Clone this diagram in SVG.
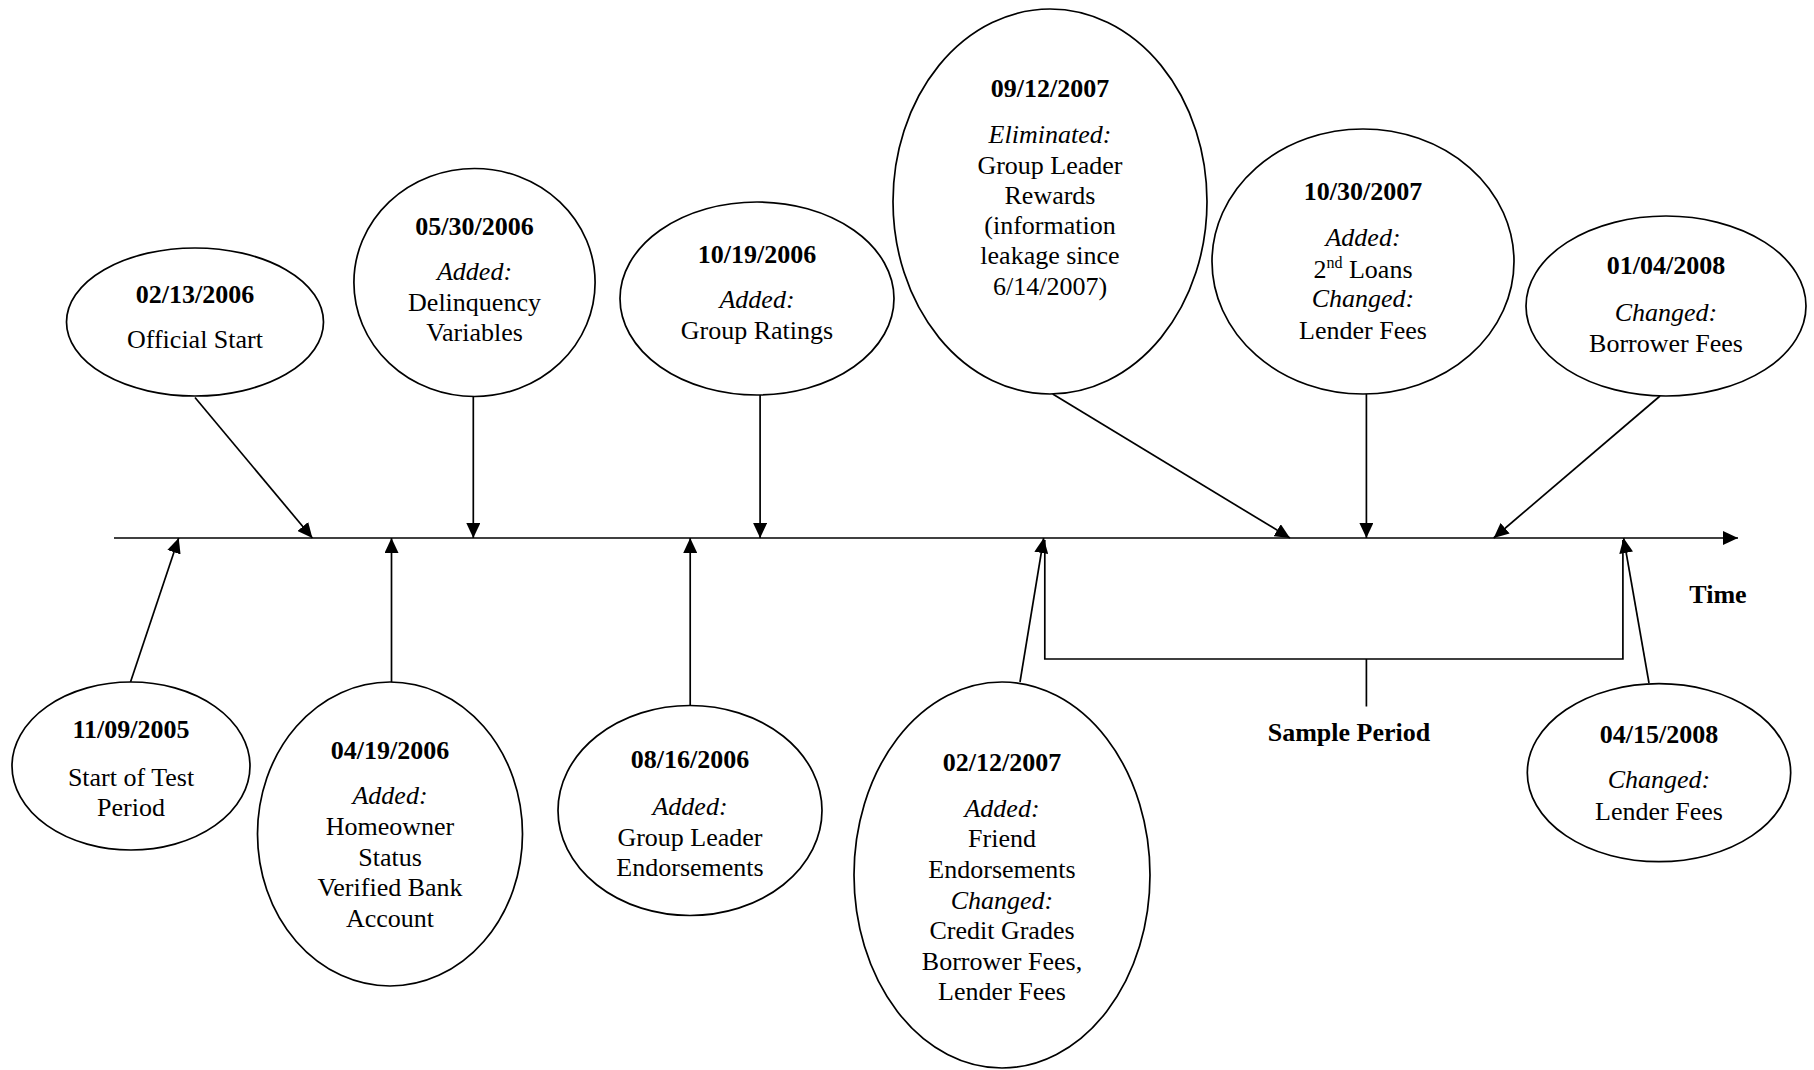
<svg xmlns="http://www.w3.org/2000/svg" width="1814" height="1070" viewBox="0 0 1814 1070">
<defs>
<marker id="ah" markerUnits="userSpaceOnUse" markerWidth="15" markerHeight="14" refX="15" refY="7" orient="auto">
<path d="M0,0 L15,7 L0,14 z" fill="#000"/>
</marker>
</defs>
<style>
.e{fill:#fff;stroke:#000;stroke-width:1.7}
.c{fill:none;stroke:#000;stroke-width:1.7}
text{font-family:"Liberation Serif","Times New Roman",serif;font-size:26px;fill:#000;text-anchor:middle}
.d{font-weight:bold}
.i{font-style:italic}
</style>
<rect width="1814" height="1070" fill="#fff"/>
<g id="connectors">
<path class="c" d="M114,538 H1738" marker-end="url(#ah)"/>
<path class="c" d="M130.5,682 L178.7,538" marker-end="url(#ah)"/>
<path class="c" d="M195,397.5 L312.4,538" marker-end="url(#ah)"/>
<path class="c" d="M391.5,682 L391.5,538" marker-end="url(#ah)"/>
<path class="c" d="M473.3,396.5 L473.3,538" marker-end="url(#ah)"/>
<path class="c" d="M690.2,705.5 L690.2,538" marker-end="url(#ah)"/>
<path class="c" d="M760.1,395 L760.1,538" marker-end="url(#ah)"/>
<path class="c" d="M1020,682 L1043.7,538" marker-end="url(#ah)"/>
<path class="c" d="M1052.7,394 L1290,538" marker-end="url(#ah)"/>
<path class="c" d="M1366.4,394 L1366.4,538" marker-end="url(#ah)"/>
<path class="c" d="M1660,396 L1493.7,538" marker-end="url(#ah)"/>
<path class="c" d="M1649,683 L1623.6,538" marker-end="url(#ah)"/>
<path class="c" d="M1044.8,540 V659 H1622.9 V540"/>
<path class="c" d="M1366.4,659 V706.5"/>
</g>
<g id="n1">
<ellipse class="e" cx="131" cy="766" rx="119" ry="84"/>
<text x="131" y="738" class="d">11/09/2005</text>
<text x="131" y="785.5">Start of Test</text>
<text x="131" y="815.6">Period</text>
</g>
<g id="n2">
<ellipse class="e" cx="195" cy="322" rx="128.5" ry="74"/>
<text x="195" y="303" class="d">02/13/2006</text>
<text x="195" y="348">Official Start</text>
</g>
<g id="n3">
<ellipse class="e" cx="390" cy="834" rx="132.5" ry="152"/>
<text x="390" y="759" class="d">04/19/2006</text>
<text x="390" y="804" class="i">Added:</text>
<text x="390" y="835">Homeowner</text>
<text x="390" y="865.5">Status</text>
<text x="390" y="896">Verified Bank</text>
<text x="390" y="927">Account</text>
</g>
<g id="n4">
<ellipse class="e" cx="474.5" cy="282.5" rx="120.6" ry="114"/>
<text x="474.5" y="234.6" class="d">05/30/2006</text>
<text x="474.5" y="280" class="i">Added:</text>
<text x="474.5" y="311">Delinquency</text>
<text x="474.5" y="341">Variables</text>
</g>
<g id="n5">
<ellipse class="e" cx="690" cy="810.5" rx="132" ry="105"/>
<text x="690" y="768.4" class="d">08/16/2006</text>
<text x="690" y="814.5" class="i">Added:</text>
<text x="690" y="845.5">Group Leader</text>
<text x="690" y="876.4">Endorsements</text>
</g>
<g id="n6">
<ellipse class="e" cx="757" cy="298.5" rx="137" ry="96.5"/>
<text x="757" y="262.5" class="d">10/19/2006</text>
<text x="757" y="308" class="i">Added:</text>
<text x="757" y="338.6">Group Ratings</text>
</g>
<g id="n7">
<ellipse class="e" cx="1002" cy="875" rx="148" ry="193"/>
<text x="1002" y="771" class="d">02/12/2007</text>
<text x="1002" y="817" class="i">Added:</text>
<text x="1002" y="847">Friend</text>
<text x="1002" y="878">Endorsements</text>
<text x="1002" y="909" class="i">Changed:</text>
<text x="1002" y="939">Credit Grades</text>
<text x="1002" y="970">Borrower Fees,</text>
<text x="1002" y="1000">Lender Fees</text>
</g>
<g id="n8">
<ellipse class="e" cx="1050" cy="201.5" rx="157" ry="192.5"/>
<text x="1050" y="97" class="d">09/12/2007</text>
<text x="1050" y="143" class="i">Eliminated:</text>
<text x="1050" y="174">Group Leader</text>
<text x="1050" y="204">Rewards</text>
<text x="1050" y="234">(information</text>
<text x="1050" y="264">leakage since</text>
<text x="1050" y="294.6">6/14/2007)</text>
</g>
<g id="n9">
<ellipse class="e" cx="1363" cy="261.5" rx="151" ry="132.5"/>
<text x="1363" y="200" class="d">10/30/2007</text>
<text x="1363" y="246.4" class="i">Added:</text>
<text x="1363" y="278">2<tspan dy="-10" font-size="16">nd</tspan><tspan dy="10"> Loans</tspan></text>
<text x="1363" y="307" class="i">Changed:</text>
<text x="1363" y="338.6">Lender Fees</text>
</g>
<g id="n10">
<ellipse class="e" cx="1666" cy="306" rx="140" ry="90"/>
<text x="1666" y="274" class="d">01/04/2008</text>
<text x="1666" y="320.7" class="i">Changed:</text>
<text x="1666" y="351.8">Borrower Fees</text>
</g>
<g id="n11">
<ellipse class="e" cx="1659" cy="772.7" rx="131.7" ry="89"/>
<text x="1659" y="742.5" class="d">04/15/2008</text>
<text x="1659" y="788.4" class="i">Changed:</text>
<text x="1659" y="820">Lender Fees</text>
</g>
<g id="labels">
<text x="1718" y="602.5" class="d">Time</text>
<text x="1349" y="740.7" class="d">Sample Period</text>
</g>
</svg>
